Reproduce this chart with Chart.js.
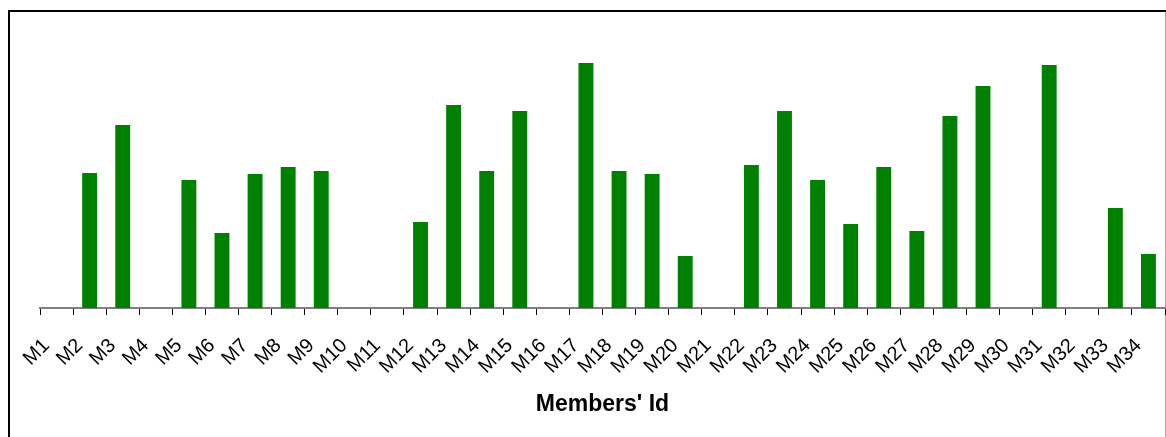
<!DOCTYPE html>
<html>
<head>
<meta charset="utf-8">
<title>Members</title>
<script src="https://cdn.jsdelivr.net/npm/chart.js@4"></script>
<style>
  html, body { margin: 0; padding: 0; background: #fff; }
</style>
</head>
<body>
<canvas id="chart" width="1166" height="437"></canvas>
<script>
// Member ids along the x axis
const memberIds = [
    "M1", "M2", "M3", "M4", "M5", "M6", "M7", "M8", "M9", "M10",
    "M11", "M12", "M13", "M14", "M15", "M16", "M17", "M18", "M19", "M20",
    "M21", "M22", "M23", "M24", "M25", "M26", "M27", "M28", "M29", "M30",
    "M31", "M32", "M33", "M34"
];

// One value per member
const memberValues = [
    0, 135, 183, 0, 128, 75, 134, 141, 137, 0,
    0, 86, 203, 137, 197, 0, 245, 137, 134, 52,
    0, 143, 197, 128, 84, 141, 77, 192, 222, 0,
    243, 0, 100, 54
];

// Value axis range (axis itself is hidden)
const valueMin = 0;
const valueMax = 300;

const fontFamily = "'Liberation Sans', Arial, sans-serif";

// Draws the white background and the outer frame
const framePlugin = {
    id: "frame",
    beforeDraw(chart) {
        const ctx = chart.ctx;
        ctx.save();
        ctx.fillStyle = "#fff";
        ctx.fillRect(0, 0, chart.width, chart.height);
        ctx.fillStyle = "#000";
        ctx.fillRect(8, 10, chart.width - 8, 2);
        ctx.fillRect(8, 10, 2, chart.height - 10);
        ctx.fillStyle = "#a6a6a6";
        ctx.fillRect(chart.width - 1, 12, 1, chart.height - 12);
        ctx.restore();
    }
};

const ctx = document.getElementById("chart");

new Chart(ctx, {
    type: "bar",
    data: {
        labels: memberIds,
        datasets: [{
            label: "Members",
            data: memberValues,
            backgroundColor: "#008000",
            borderWidth: 0,
            barPercentage: 0.45,
            categoryPercentage: 1.0
        }]
    },
    options: {
        responsive: false,
        animation: false,
        layout: {
            padding: { left: 40, right: 1, top: 8, bottom: 0 }
        },
        plugins: {
            legend: { display: false },
            tooltip: { enabled: false }
        },
        scales: {
            x: {
                offset: true,
                border: { display: true, color: "#808080", width: 2 },
                grid: {
                    display: true,
                    offset: true,
                    drawOnChartArea: false,
                    drawTicks: true,
                    tickLength: 7,
                    tickColor: "#000",
                    tickWidth: 1
                },
                ticks: {
                    color: "#000",
                    font: { family: fontFamily, size: 20 },
                    minRotation: 45,
                    maxRotation: 45,
                    autoSkip: false,
                    padding: 19,
                    labelOffset: -10
                },
                title: {
                    display: true,
                    text: "Members' Id",
                    color: "#000",
                    font: { family: fontFamily, size: 23, weight: "bold" },
                    padding: { top: 4, bottom: 19 }
                },
                afterFit(scale) {
                    // keep the plot flush with the frame; labels may overhang
                    scale.height = 129;
                    scale.paddingLeft = 0;
                    scale.paddingRight = 0;
                }
            },
            y: {
                display: false,
                min: valueMin,
                max: valueMax
            }
        }
    },
    plugins: [framePlugin]
});
</script>
</body>
</html>
